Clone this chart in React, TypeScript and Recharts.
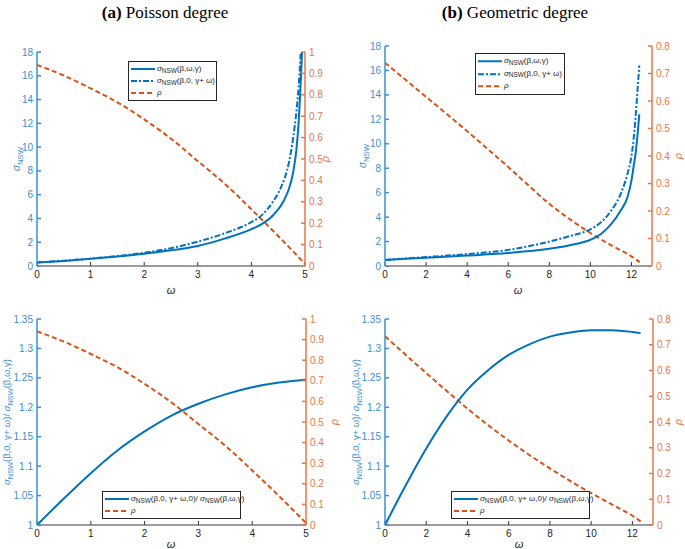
import React from 'react';
import { LineChart, Line, XAxis, YAxis, Legend, Label } from 'recharts';

const BLUE = '#0072BD';
const ORANGE = '#D95319';
const AX_BLUE = '#3d8fd0';
const AX_ORANGE = '#e4774a';
const AX_DARK = '#3a3a3a';
const SANS = '"Liberation Sans", Arial, Helvetica, sans-serif';
const SERIF = '"Liberation Serif", "Times New Roman", serif';

// ---------- Panel (a) Poisson degree ----------
const omegaA_sigma = [0, 0.5, 1, 1.5, 2, 2.5, 3, 3.5, 4, 4.2, 4.4, 4.6, 4.7, 4.78, 4.84, 4.88, 4.92, 4.95];
const sigmaA_omegaGamma = [0.3, 0.43, 0.6, 0.8, 1.03, 1.32, 1.69, 2.3, 3.1, 3.55, 4.25, 5.45, 6.5, 7.9, 9.8, 12.0, 15.5, 18.5];
const omegaA_shift = [0, 0.5, 1, 1.5, 2, 2.5, 3, 3.5, 4, 4.2, 4.4, 4.55, 4.7, 4.78, 4.84, 4.88, 4.92];
const sigmaA_zeroShift = [0.3, 0.44, 0.62, 0.84, 1.12, 1.5, 2.05, 2.75, 3.7, 4.3, 5.4, 6.6, 8.7, 10.8, 13.0, 15.0, 18.0];
const omegaA_grid = [0, 0.5, 1, 1.5, 2, 2.5, 3, 3.5, 4, 4.5, 5];
const rhoA = [0.94, 0.89, 0.83, 0.765, 0.685, 0.595, 0.49, 0.385, 0.265, 0.14, 0.01];
const ratioA = [1.0, 1.045, 1.088, 1.127, 1.159, 1.186, 1.206, 1.222, 1.234, 1.242, 1.247];

// ---------- Panel (b) Geometric degree ----------
const omegaB_sigma = [0, 2, 4, 6, 7.5, 9, 10, 10.5, 11, 11.5, 11.8, 12, 12.1, 12.2, 12.3, 12.38];
const sigmaB_omegaGamma = [0.5, 0.68, 0.86, 1.06, 1.3, 1.7, 2.15, 2.6, 3.4, 4.6, 5.6, 7.0, 8.1, 9.2, 10.8, 12.4];
const sigmaB_zeroShift = [0.5, 0.73, 0.98, 1.32, 1.8, 2.45, 3.0, 3.55, 4.5, 6.0, 7.5, 9.0, 10.3, 12.2, 14.5, 16.4];
const omegaB_grid = [0, 1, 2, 3, 4, 5, 6, 7, 8, 9, 10, 11, 12, 12.4];
const rhoB_top = [0.739, 0.677, 0.615, 0.553, 0.49, 0.425, 0.36, 0.292, 0.226, 0.17, 0.12, 0.076, 0.035, 0.014];
const rhoB_bottom = [0.733, 0.661, 0.59, 0.52, 0.452, 0.388, 0.328, 0.272, 0.22, 0.17, 0.124, 0.08, 0.036, 0.014];
const ratioB = [1.0, 1.067, 1.13, 1.185, 1.23, 1.263, 1.289, 1.307, 1.32, 1.327, 1.331, 1.331, 1.328, 1.326];

// ---------- Ticks ----------
const ticksA_x = [0, 1, 2, 3, 4, 5];
const ticksB_x = [0, 2, 4, 6, 8, 10, 12];
const ticksSigma = [0, 2, 4, 6, 8, 10, 12, 14, 16, 18];
const ticksRatio = [1, 1.05, 1.1, 1.15, 1.2, 1.25, 1.3, 1.35];
const ticksRho10 = [0, 0.1, 0.2, 0.3, 0.4, 0.5, 0.6, 0.7, 0.8, 0.9, 1];
const ticksRho08 = [0, 0.1, 0.2, 0.3, 0.4, 0.5, 0.6, 0.7, 0.8];

const zip = (xs: number[], ys: number[]) => xs.map((x, i) => ({ x, y: ys[i] }));

type Part = { t: string; sub?: boolean; it?: boolean };

const partsSigma: Part[] = [{ t: 'σ', it: true }, { t: 'NSW', sub: true }];
const partsRatio: Part[] = [
  { t: 'σ', it: true }, { t: 'NSW', sub: true }, { t: '(β,0, γ+ ω)/ ' },
  { t: 'σ', it: true }, { t: 'NSW', sub: true }, { t: '(β,ω,γ)' },
];

const RotLabel = ({ x, y, parts, color, fs = 10 }: any) => {
  const shift = fs * 0.3;
  let cur = 0;
  return (
    <text
      x={0}
      y={0}
      transform={`translate(${x + fs * 0.35},${y}) rotate(-90)`}
      textAnchor="middle"
      fill={color}
      fontFamily={SANS}
      fontSize={fs}
    >
      {parts.map((p: Part, i: number) => {
        const target = p.sub ? shift : 0;
        const dy = target - cur;
        cur = target;
        return (
          <tspan key={i} dy={dy !== 0 ? dy : undefined} fontSize={p.sub ? fs * 0.78 : fs} fontStyle={p.it ? 'italic' : 'normal'}>
            {p.t}
          </tspan>
        );
      })}
    </text>
  );
};

const OmegaLabel = ({ x, y }: any) => (
  <text x={x} y={y} textAnchor="middle" fill="#262626" fontFamily={SANS} fontSize={11} fontStyle="italic">ω</text>
);

const Sig = ({ rest }: { rest: string }) => (
  <span>
    <i>σ</i>
    <span style={{ fontSize: '0.8em', position: 'relative', top: '0.3em' }}>NSW</span>
    {rest}
  </span>
);

type LegItem = { color: string; dash?: string; label: React.ReactNode };

const LegendBox = ({ items, width, rowH, fs }: { items: LegItem[]; width: number; rowH: number; fs: number }) => (
  <div
    style={{
      border: '1px solid #262626',
      background: '#fff',
      width,
      boxSizing: 'border-box',
      padding: '1px 0',
      fontFamily: SANS,
      fontSize: fs,
      color: '#262626',
      lineHeight: rowH + 'px',
    }}
  >
    {items.map((it, i) => (
      <div key={i} style={{ display: 'flex', alignItems: 'center', height: rowH, whiteSpace: 'nowrap' }}>
        <svg width={27} height={rowH} style={{ flex: 'none', display: 'block' }}>
          <line x1={2} x2={26} y1={rowH / 2} y2={rowH / 2} stroke={it.color} strokeWidth={2} strokeDasharray={it.dash} />
        </svg>
        <span style={{ marginLeft: 1 }}>{it.label}</span>
      </div>
    ))}
  </div>
);

const topItems: LegItem[] = [
  { color: BLUE, label: <Sig rest="(β,ω,γ)" /> },
  { color: BLUE, dash: '6 2 2 2', label: <Sig rest="(β,0, γ+ ω)" /> },
  { color: ORANGE, dash: '5 3', label: <i>ρ</i> },
];
const bottomItems: LegItem[] = [
  { color: BLUE, label: <><Sig rest="(β,0, γ+ ω,0)/ " /><Sig rest="(β,ω,γ)" /></> },
  { color: ORANGE, dash: '5 3', label: <i>ρ</i> },
];

const tickFont = { fontSize: 10, fontFamily: SANS };

type PanelProps = {
  left: number;
  top: number;
  width: number;
  height: number;
  margin: { top: number; right: number; bottom: number; left: number };
  leftW: number;
  rightW: number;
  xHeight: number;
  xDomain: [number, number];
  xTicks: number[];
  lDomain: [number, number];
  lTicks: number[];
  rDomain: [number, number];
  rTicks: number[];
  lines: { data: { x: number; y: number }[]; axis: 'l' | 'r'; color: string; dash?: string; key: string }[];
  leftLabel: { x: number; y: number; parts: Part[]; fs?: number };
  rightLabel: { x: number; y: number };
  omega: { x: number; y: number };
  legend: { left: number; top: number; width: number; rowH: number; fs: number; items: LegItem[] };
};

const Panel = (p: PanelProps) => (
  <div style={{ position: 'absolute', left: p.left, top: p.top }}>
    <LineChart width={p.width} height={p.height} margin={p.margin} data={p.lines[0].data}>
      <XAxis
        xAxisId="b"
        type="number"
        dataKey="x"
        domain={p.xDomain}
        ticks={p.xTicks}
        interval={0}
        height={p.xHeight}
        stroke={AX_DARK}
        tickSize={-4}
        tickMargin={9}
        tick={{ ...tickFont, fill: '#262626' }}
        allowDataOverflow
      >
        <Label content={() => <OmegaLabel x={p.omega.x} y={p.omega.y} />} />
      </XAxis>
      <XAxis
        xAxisId="t"
        orientation="top"
        type="number"
        dataKey="x"
        domain={p.xDomain}
        ticks={p.xTicks}
        interval={0}
        height={0}
        stroke={AX_DARK}
        tickSize={-4}
        tick={false}
        allowDataOverflow
      />
      <YAxis
        yAxisId="l"
        orientation="left"
        type="number"
        domain={p.lDomain}
        ticks={p.lTicks}
        interval={0}
        allowDataOverflow
        width={p.leftW}
        stroke={AX_BLUE}
        strokeWidth={1.5}
        tickSize={-4}
        tickMargin={8}
        tick={{ ...tickFont, fill: AX_BLUE }}
      >
        <Label
          content={() => (
            <RotLabel x={p.leftLabel.x} y={p.leftLabel.y} parts={p.leftLabel.parts} color={AX_BLUE} fs={p.leftLabel.fs ?? 10} />
          )}
        />
      </YAxis>
      <YAxis
        yAxisId="r"
        orientation="right"
        type="number"
        domain={p.rDomain}
        ticks={p.rTicks}
        interval={0}
        allowDataOverflow
        width={p.rightW}
        stroke={AX_ORANGE}
        strokeWidth={1.5}
        tickSize={-4}
        tickMargin={8}
        tick={{ ...tickFont, fill: AX_ORANGE }}
      >
        <Label content={() => <RotLabel x={p.rightLabel.x} y={p.rightLabel.y} parts={[{ t: 'ρ', it: true }]} color={AX_ORANGE} fs={11} />} />
      </YAxis>
      {p.lines.map((l) => (
        <Line
          key={l.key}
          data={l.data}
          dataKey="y"
          xAxisId="b"
          yAxisId={l.axis}
          type="monotone"
          stroke={l.color}
          strokeWidth={2}
          strokeDasharray={l.dash}
          dot={false}
          activeDot={false}
          isAnimationActive={false}
        />
      ))}
      <Legend
        layout="vertical"
        align="center"
        verticalAlign="middle"
        wrapperStyle={{ left: p.legend.left, top: p.legend.top, width: 'auto', height: 'auto' }}
        content={() => (
          <LegendBox items={p.legend.items} width={p.legend.width} rowH={p.legend.rowH} fs={p.legend.fs} />
        )}
      />
    </LineChart>
  </div>
);

const Title = ({ cx, tag, text }: { cx: number; tag: string; text: string }) => (
  <div
    style={{
      position: 'absolute',
      left: cx - 120,
      width: 240,
      top: 4,
      textAlign: 'center',
      fontFamily: SERIF,
      fontSize: 17,
      lineHeight: '17px',
      color: '#000',
      whiteSpace: 'nowrap',
    }}
  >
    <b>{tag}</b> {text}
  </div>
);

export default function App() {
  return (
    <div style={{ position: 'absolute', left: 0, top: 0, width: 685, height: 549, background: '#fff', overflow: 'hidden' }}>
      <Title cx={165} tag="(a)" text="Poisson degree" />
      <Title cx={515} tag="(b)" text="Geometric degree" />

      {/* top-left */}
      <Panel
        left={0}
        top={30}
        width={340}
        height={275}
        margin={{ top: 22, right: 0, bottom: 9, left: 0 }}
        leftW={37}
        rightW={35}
        xHeight={30}
        xDomain={[0, 5]}
        xTicks={ticksA_x}
        lDomain={[0, 18]}
        lTicks={ticksSigma}
        rDomain={[0, 1]}
        rTicks={ticksRho10}
        lines={[
          { key: 'rho', data: zip(omegaA_grid, rhoA), axis: 'r', color: ORANGE, dash: '5 3' },
          { key: 's1', data: zip(omegaA_sigma, sigmaA_omegaGamma), axis: 'l', color: BLUE },
          { key: 's2', data: zip(omegaA_shift, sigmaA_zeroShift), axis: 'l', color: BLUE, dash: '6 2 2 2' },
        ]}
        leftLabel={{ x: 16, y: 129, parts: partsSigma }}
        rightLabel={{ x: 325, y: 129 }}
        omega={{ x: 171, y: 264 }}
        legend={{ left: 128, top: 31, width: 89, rowH: 12, fs: 8, items: topItems }}
      />

      {/* top-right */}
      <Panel
        left={340}
        top={30}
        width={345}
        height={275}
        margin={{ top: 16, right: 0, bottom: 9, left: 0 }}
        leftW={45}
        rightW={33}
        xHeight={30}
        xDomain={[0, 13]}
        xTicks={ticksB_x}
        lDomain={[0, 18]}
        lTicks={ticksSigma}
        rDomain={[0, 0.8]}
        rTicks={ticksRho08}
        lines={[
          { key: 'rho', data: zip(omegaB_grid, rhoB_top), axis: 'r', color: ORANGE, dash: '5 3' },
          { key: 's1', data: zip(omegaB_sigma, sigmaB_omegaGamma), axis: 'l', color: BLUE },
          { key: 's2', data: zip(omegaB_sigma, sigmaB_zeroShift), axis: 'l', color: BLUE, dash: '6 2 2 2' },
        ]}
        leftLabel={{ x: 22, y: 126, parts: partsSigma }}
        rightLabel={{ x: 338, y: 126 }}
        omega={{ x: 178, y: 264 }}
        legend={{ left: 135, top: 23, width: 90, rowH: 12.5, fs: 8, items: topItems }}
      />

      {/* bottom-left */}
      <Panel
        left={0}
        top={300}
        width={340}
        height={249}
        margin={{ top: 19, right: 0, bottom: 0, left: 0 }}
        leftW={37}
        rightW={34}
        xHeight={24}
        xDomain={[0, 5]}
        xTicks={ticksA_x}
        lDomain={[1, 1.35]}
        lTicks={ticksRatio}
        rDomain={[0, 1]}
        rTicks={ticksRho10}
        lines={[
          { key: 'rho', data: zip(omegaA_grid, rhoA), axis: 'r', color: ORANGE, dash: '5 3' },
          { key: 'ratio', data: zip(omegaA_grid, ratioA), axis: 'l', color: BLUE },
        ]}
        leftLabel={{ x: 7, y: 122, parts: partsRatio, fs: 9.5 }}
        rightLabel={{ x: 334, y: 122 }}
        omega={{ x: 171, y: 248 }}
        legend={{ left: 102, top: 191, width: 139, rowH: 12, fs: 8, items: bottomItems }}
      />

      {/* bottom-right */}
      <Panel
        left={340}
        top={300}
        width={345}
        height={249}
        margin={{ top: 19, right: 0, bottom: 0, left: 0 }}
        leftW={45}
        rightW={32}
        xHeight={24}
        xDomain={[0, 13]}
        xTicks={ticksB_x}
        lDomain={[1, 1.35]}
        lTicks={ticksRatio}
        rDomain={[0, 0.8]}
        rTicks={ticksRho08}
        lines={[
          { key: 'rho', data: zip(omegaB_grid, rhoB_bottom), axis: 'r', color: ORANGE, dash: '5 3' },
          { key: 'ratio', data: zip(omegaB_grid, ratioB), axis: 'l', color: BLUE },
        ]}
        leftLabel={{ x: 16, y: 122, parts: partsRatio, fs: 9.5 }}
        rightLabel={{ x: 338, y: 122 }}
        omega={{ x: 179, y: 248 }}
        legend={{ left: 111, top: 191, width: 139, rowH: 12, fs: 8, items: bottomItems }}
      />
    </div>
  );
}
